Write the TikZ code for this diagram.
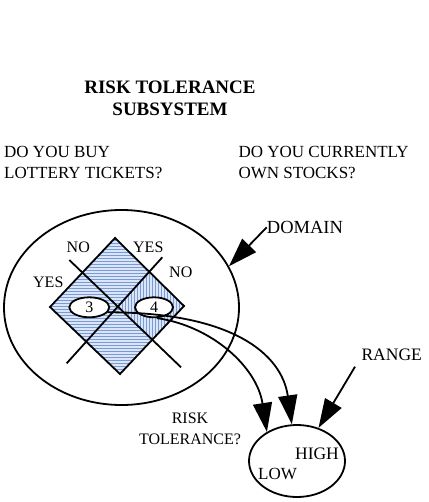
\documentclass[tikz,border=0pt]{standalone}
\usepackage{fontspec}
\setmainfont{Liberation Serif}
\usetikzlibrary{arrows.meta,shapes.geometric}
\definecolor{stripebg}{RGB}{218,229,247}
\definecolor{stripe}{RGB}{122,154,214}
\begin{document}
\begin{tikzpicture}[x=1pt,y=-1pt,
  outline/.style={draw=black,line width=1.8pt},
  bigarrow/.style={line width=1.8pt,-{Triangle[length=29pt,width=19pt]}},
  lbl/.style={inner sep=0pt,font=\fontsize{16}{19}\selectfont},
  oval/.style={ellipse,draw,line width=1.8pt,inner sep=0pt,fill=white,
    font=\fontsize{16}{19}\selectfont},
  stripeline/.style={stripe,line width=1pt}]
\useasboundingbox (0,0) rectangle (428,502);

% headings
\node[inner sep=0pt,align=center,font=\fontsize{19}{22}\selectfont\bfseries] (title) at (170,98) {RISK TOLERANCE\\SUBSYSTEM};
\node[inner sep=0pt,align=left,anchor=west,font=\fontsize{17}{21.6}\selectfont] (q1) at (4,162.5) {DO YOU BUY\\LOTTERY TICKETS?};
\node[inner sep=0pt,align=left,anchor=west,font=\fontsize{17}{21.6}\selectfont] (q2) at (238.3,162.5) {DO YOU CURRENTLY\\OWN STOCKS?};

% the domain: a square of four answer cells
\coordinate (dT) at (115,238);
\coordinate (dR) at (184,306);
\coordinate (dB) at (120,374);
\coordinate (dL) at (50,307);
\coordinate (dC) at (117,306.5);
\coordinate (mTR) at (149.5,272);
\coordinate (mRB) at (152,340);

\begin{scope}
  \clip (dT) -- (dR) -- (dB) -- (dL) -- cycle;
  \fill[stripebg] (40,230) rectangle (195,380);
  \foreach \y in {237,240,...,376} \draw[stripeline] (40,\y) -- (195,\y);
\end{scope}
\begin{scope}
  \clip (mTR) -- (dR) -- (mRB) -- (dC) -- cycle;
  \fill[stripebg] (110,265) rectangle (190,345);
  \foreach \x in {116,119,...,187} \draw[stripeline] (\x,265) -- (\x,345);
\end{scope}

\draw[outline,line join=miter] (dT) -- (dR) -- (dB) -- (dL) -- cycle;
\coordinate (c1a) at (69.3,260);
\coordinate (c1b) at (181,367.3);
\coordinate (c2a) at (162.3,257.3);
\coordinate (c2b) at (66.7,363.3);
\draw[outline] (c1a) -- (c1b);
\draw[outline] (c2a) -- (c2b);

\node[oval,fill=none,minimum width=235pt,minimum height=195pt] (dom) at (121.5,307.5) {};

\node[lbl] (no1) at (78.3,247.3) {NO};
\node[lbl] (yes1) at (148.3,246.8) {YES};
\node[lbl] (yes2) at (48.3,282.5) {YES};
\node[lbl] (no2) at (180.8,272.7) {NO};

\node[oval,minimum width=40pt,minimum height=20pt] (n3) at (89.3,307.3) {3};
\node[oval,minimum width=38pt,minimum height=20pt] (n4) at (154,307.3) {4};

% the range
\node[oval,fill=none,minimum width=96pt,minimum height=72pt] (rng) at (297,461) {};
\node[lbl,font=\fontsize{17.5}{20}\selectfont] (high) at (317,454) {HIGH};
\node[lbl,font=\fontsize{17}{20}\selectfont] (low) at (277.5,473.5) {LOW};

\node[lbl,align=center,font=\fontsize{16}{21}\selectfont] (rt) at (190,428.5) {RISK\\TOLERANCE?};

% mapping arrows
\draw[bigarrow] (n3.-15) .. controls +(125,0) and +(-10,-70) .. (rng.98);
\draw[bigarrow] (n4.-75) .. controls +(55,8) and +(-10,-65) .. (rng.136);

% callouts
\node[lbl,anchor=west,font=\fontsize{18.5}{22}\selectfont] (domlbl) at (266.7,227.3) {DOMAIN};
\draw[bigarrow] (domlbl.west) -- (dom.21);

\node[lbl,font=\fontsize{17.5}{20}\selectfont] (rnglbl) at (391.7,355) {RANGE};
\coordinate (rngtail) at (355,366.7);
\draw[bigarrow] (rngtail) -- (rng.57);
\end{tikzpicture}
\end{document}
